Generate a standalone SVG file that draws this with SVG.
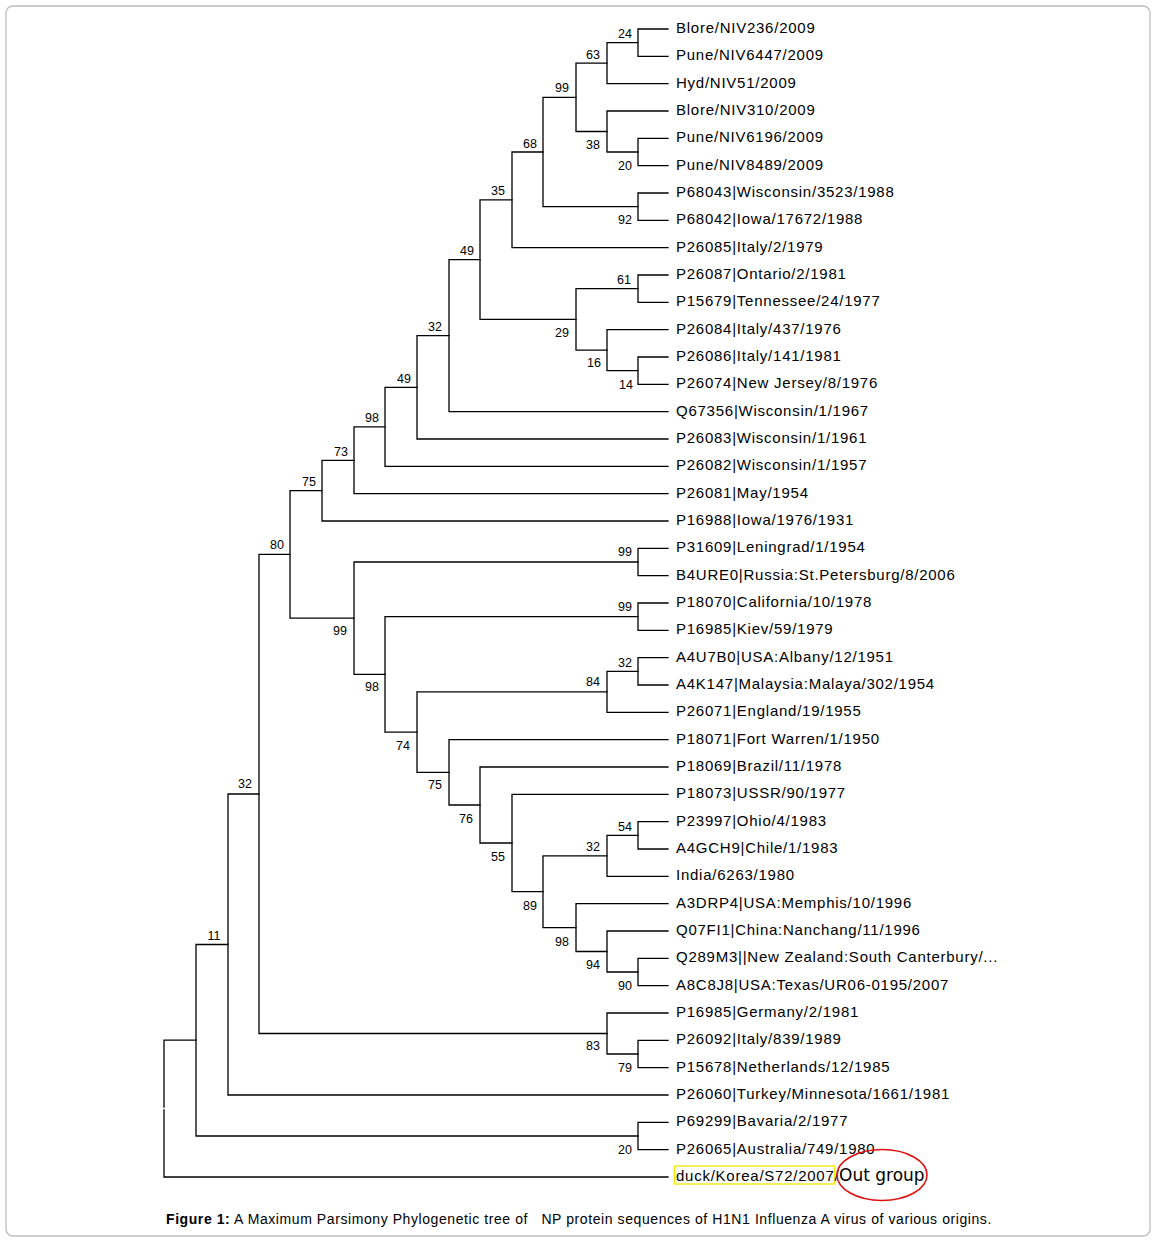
<svg xmlns="http://www.w3.org/2000/svg" width="1156" height="1241" viewBox="0 0 1156 1241">
<style>
.br{fill:none;stroke:#000;stroke-width:1.3;stroke-linecap:square}
.lf{font-family:"Liberation Sans",Arial,sans-serif;font-size:15px;letter-spacing:0.75px;fill:#000}
.bs{font-family:"Liberation Sans",Arial,sans-serif;font-size:12.5px;fill:#000;text-anchor:middle}
.cap{font-family:"Liberation Sans",Arial,sans-serif;font-size:14px;letter-spacing:0.58px;fill:#000;white-space:pre}
</style>
<rect x="6" y="6" width="1144" height="1230" rx="7" fill="#fff" stroke="#bdbdbd" stroke-width="1.3"/>
<g id="connectors">
<path class="br" d="M668 29 H638 V56.3 H668"/>
<path class="br" d="M638 42.7 H607 V83.7 H668"/>
<path class="br" d="M668 138.3 H638 V165.7 H668"/>
<path class="br" d="M668 111 H607 V152 H638"/>
<path class="br" d="M607 63.2 H576 V131.5 H607"/>
<path class="br" d="M668 193 H638 V220.3 H668"/>
<path class="br" d="M576 97.3 H543 V206.7 H638"/>
<path class="br" d="M543 152 H512 V247.7 H668"/>
<path class="br" d="M668 275 H638 V302.3 H668"/>
<path class="br" d="M668 357 H638 V384.3 H668"/>
<path class="br" d="M668 329.7 H607 V370.7 H638"/>
<path class="br" d="M638 288.7 H576 V350.2 H607"/>
<path class="br" d="M512 199.8 H480 V319.4 H576"/>
<path class="br" d="M480 259.6 H449 V411.7 H668"/>
<path class="br" d="M449 335.7 H417 V439 H668"/>
<path class="br" d="M417 387.3 H385 V466.3 H668"/>
<path class="br" d="M385 426.8 H354 V493.7 H668"/>
<path class="br" d="M354 460.3 H322 V521 H668"/>
<path class="br" d="M668 548.3 H638 V575.7 H668"/>
<path class="br" d="M668 603 H638 V630.3 H668"/>
<path class="br" d="M668 657.7 H638 V685 H668"/>
<path class="br" d="M638 671.3 H607 V712.3 H668"/>
<path class="br" d="M668 821.7 H638 V849 H668"/>
<path class="br" d="M638 835.3 H607 V876.3 H668"/>
<path class="br" d="M668 958.3 H638 V985.7 H668"/>
<path class="br" d="M668 931 H607 V972 H638"/>
<path class="br" d="M668 903.7 H576 V951.5 H607"/>
<path class="br" d="M607 855.8 H543 V927.6 H576"/>
<path class="br" d="M668 794.3 H512 V891.7 H543"/>
<path class="br" d="M668 767 H480 V843 H512"/>
<path class="br" d="M668 739.7 H449 V805 H480"/>
<path class="br" d="M607 691.8 H417 V772.3 H449"/>
<path class="br" d="M638 616.7 H385 V732.1 H417"/>
<path class="br" d="M638 562 H354 V674.4 H385"/>
<path class="br" d="M322 490.6 H290 V618.2 H354"/>
<path class="br" d="M668 1040.3 H638 V1067.7 H668"/>
<path class="br" d="M668 1013 H607 V1054 H638"/>
<path class="br" d="M290 554.4 H259 V1033.5 H607"/>
<path class="br" d="M259 794 H228 V1095 H668"/>
<path class="br" d="M668 1122.3 H638 V1149.7 H668"/>
<path class="br" d="M228 944.5 H196 V1136 H638"/>
<path class="br" d="M196 1040.2 H164 V1107"/>
<path class="br" d="M164 1110 V1177 H668"/>
</g>
<g id="bootstrap">
<text class="bs" x="625" y="37.5">24</text>
<text class="bs" x="593" y="58.5">63</text>
<text class="bs" x="562" y="92">99</text>
<text class="bs" x="530" y="147.5">68</text>
<text class="bs" x="498" y="194.5">35</text>
<text class="bs" x="593" y="148.5">38</text>
<text class="bs" x="625" y="169.5">20</text>
<text class="bs" x="625" y="223.5">92</text>
<text class="bs" x="467" y="254.5">49</text>
<text class="bs" x="624" y="283.5">61</text>
<text class="bs" x="562" y="336.5">29</text>
<text class="bs" x="594" y="366.5">16</text>
<text class="bs" x="626" y="388.5">14</text>
<text class="bs" x="435" y="330.5">32</text>
<text class="bs" x="404" y="382.5">49</text>
<text class="bs" x="372" y="421.5">98</text>
<text class="bs" x="341" y="455.5">73</text>
<text class="bs" x="309" y="485.5">75</text>
<text class="bs" x="277" y="548.5">80</text>
<text class="bs" x="625" y="555.5">99</text>
<text class="bs" x="625" y="610.5">99</text>
<text class="bs" x="340" y="634.5">99</text>
<text class="bs" x="625" y="666.5">32</text>
<text class="bs" x="593" y="685.5">84</text>
<text class="bs" x="372" y="690.5">98</text>
<text class="bs" x="403" y="749.5">74</text>
<text class="bs" x="435" y="788.5">75</text>
<text class="bs" x="466" y="822.5">76</text>
<text class="bs" x="498" y="860.5">55</text>
<text class="bs" x="625" y="830.5">54</text>
<text class="bs" x="593" y="850.5">32</text>
<text class="bs" x="530" y="909.5">89</text>
<text class="bs" x="562" y="945.5">98</text>
<text class="bs" x="593" y="968.5">94</text>
<text class="bs" x="625" y="989.5">90</text>
<text class="bs" x="593" y="1049.5">83</text>
<text class="bs" x="625" y="1071.5">79</text>
<text class="bs" x="245" y="787.5">32</text>
<text class="bs" x="214" y="939.5">11</text>
<text class="bs" x="625" y="1153.5">20</text>
</g>
<g id="leaves">
<text class="lf" x="676" y="33">Blore/NIV236/2009</text>
<text class="lf" x="676" y="60.3">Pune/NIV6447/2009</text>
<text class="lf" x="676" y="87.7">Hyd/NIV51/2009</text>
<text class="lf" x="676" y="115">Blore/NIV310/2009</text>
<text class="lf" x="676" y="142.3">Pune/NIV6196/2009</text>
<text class="lf" x="676" y="169.7">Pune/NIV8489/2009</text>
<text class="lf" x="676" y="197">P68043|Wisconsin/3523/1988</text>
<text class="lf" x="676" y="224.3">P68042|Iowa/17672/1988</text>
<text class="lf" x="676" y="251.7">P26085|Italy/2/1979</text>
<text class="lf" x="676" y="279">P26087|Ontario/2/1981</text>
<text class="lf" x="676" y="306.3">P15679|Tennessee/24/1977</text>
<text class="lf" x="676" y="333.7">P26084|Italy/437/1976</text>
<text class="lf" x="676" y="361">P26086|Italy/141/1981</text>
<text class="lf" x="676" y="388.3">P26074|New Jersey/8/1976</text>
<text class="lf" x="676" y="415.7">Q67356|Wisconsin/1/1967</text>
<text class="lf" x="676" y="443">P26083|Wisconsin/1/1961</text>
<text class="lf" x="676" y="470.3">P26082|Wisconsin/1/1957</text>
<text class="lf" x="676" y="497.7">P26081|May/1954</text>
<text class="lf" x="676" y="525">P16988|Iowa/1976/1931</text>
<text class="lf" x="676" y="552.3">P31609|Leningrad/1/1954</text>
<text class="lf" x="676" y="579.7">B4URE0|Russia:St.Petersburg/8/2006</text>
<text class="lf" x="676" y="607">P18070|California/10/1978</text>
<text class="lf" x="676" y="634.3">P16985|Kiev/59/1979</text>
<text class="lf" x="676" y="661.7">A4U7B0|USA:Albany/12/1951</text>
<text class="lf" x="676" y="689">A4K147|Malaysia:Malaya/302/1954</text>
<text class="lf" x="676" y="716.3">P26071|England/19/1955</text>
<text class="lf" x="676" y="743.7">P18071|Fort Warren/1/1950</text>
<text class="lf" x="676" y="771">P18069|Brazil/11/1978</text>
<text class="lf" x="676" y="798.3">P18073|USSR/90/1977</text>
<text class="lf" x="676" y="825.7">P23997|Ohio/4/1983</text>
<text class="lf" x="676" y="853">A4GCH9|Chile/1/1983</text>
<text class="lf" x="676" y="880.3">India/6263/1980</text>
<text class="lf" x="676" y="907.7">A3DRP4|USA:Memphis/10/1996</text>
<text class="lf" x="676" y="935">Q07FI1|China:Nanchang/11/1996</text>
<text class="lf" x="676" y="962.3">Q289M3||New Zealand:South Canterbury/...</text>
<text class="lf" x="676" y="989.7">A8C8J8|USA:Texas/UR06-0195/2007</text>
<text class="lf" x="676" y="1017">P16985|Germany/2/1981</text>
<text class="lf" x="676" y="1044.3">P26092|Italy/839/1989</text>
<text class="lf" x="676" y="1071.7">P15678|Netherlands/12/1985</text>
<text class="lf" x="676" y="1099">P26060|Turkey/Minnesota/1661/1981</text>
<text class="lf" x="676" y="1126.3">P69299|Bavaria/2/1977</text>
<text class="lf" x="676" y="1153.7">P26065|Australia/749/1980</text>
<g id="outgroup">
<rect x="674.5" y="1166" width="160" height="18" fill="none" stroke="#f2e600" stroke-width="1.3"/>
<text class="lf" x="676" y="1181">duck/Korea/S72/2007/</text>
<text x="839" y="1181" font-family="'DejaVu Sans',sans-serif" font-size="17" fill="#000">Out group</text>
<ellipse cx="882" cy="1175" rx="45" ry="25.5" fill="none" stroke="#e01010" stroke-width="1.6"/>
</g>
</g>
<text class="cap" x="166" y="1224"><tspan font-weight="bold">Figure 1:</tspan> A Maximum Parsimony Phylogenetic tree of   NP protein sequences of H1N1 Influenza A virus of various origins.</text>
</svg>
